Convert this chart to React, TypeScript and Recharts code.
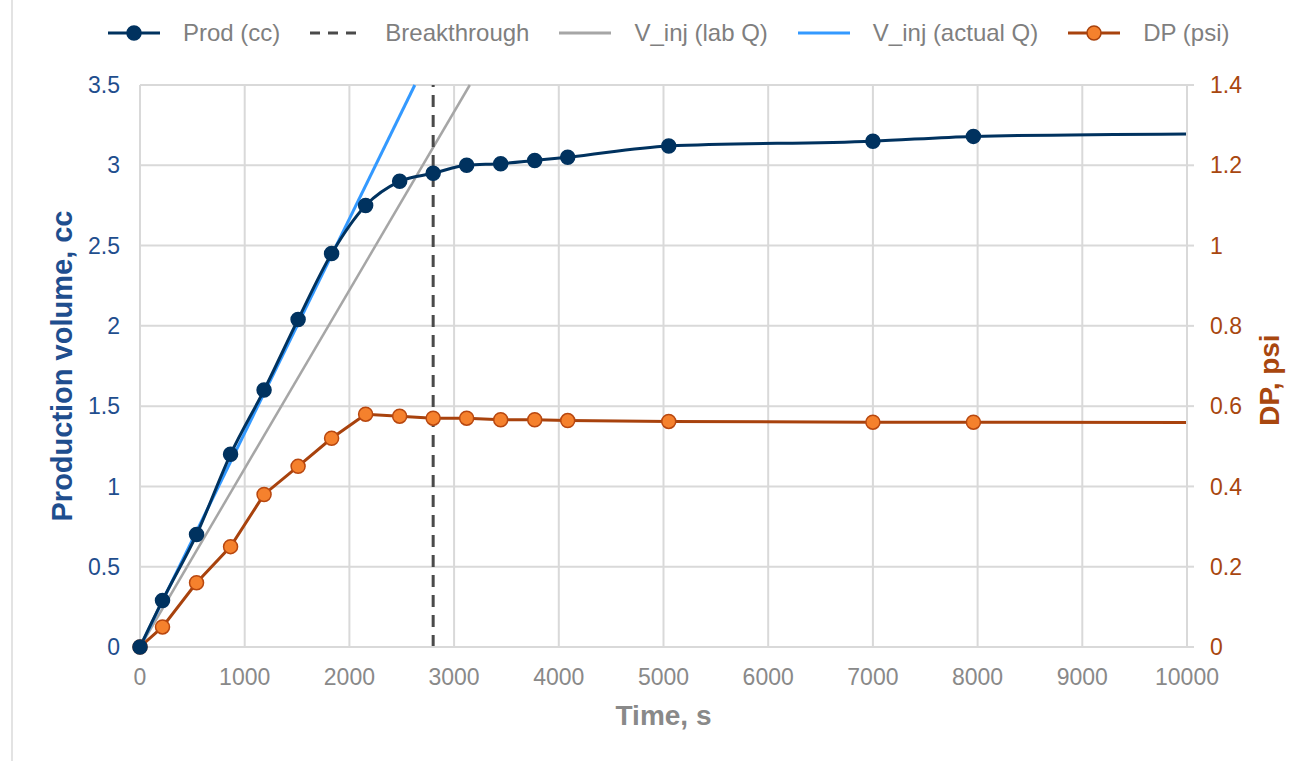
import React from "react";
import {
  ComposedChart,
  Line,
  XAxis,
  YAxis,
  CartesianGrid,
  Legend,
  Label,
} from "recharts";

// sample times (s)
const times = [0, 215, 540, 865, 1185, 1510, 1830, 2155, 2480, 2800, 3120, 3445, 3770, 4085, 5050, 7000, 7960, 10000];
// production volume (cc)
const prodValues = [0, 0.29, 0.7, 1.2, 1.6, 2.04, 2.45, 2.75, 2.9, 2.95, 3.0, 3.01, 3.03, 3.05, 3.12, 3.15, 3.18, 3.195];
// pressure drop (psi)
const dpValues = [0, 0.05, 0.16, 0.25, 0.38, 0.45, 0.52, 0.58, 0.575, 0.57, 0.57, 0.566, 0.566, 0.564, 0.562, 0.56, 0.56, 0.559];

const breakthroughTimes = [2800, 2800];
const breakthroughValues = [0, 3.5];

const labQTimes = [0, 3150];
const labQValues = [0, 3.5];

const actualQTimes = [0, 2625];
const actualQValues = [0, 3.5];

const xTicks = [0, 1000, 2000, 3000, 4000, 5000, 6000, 7000, 8000, 9000, 10000];
const leftTicks = [0, 0.5, 1, 1.5, 2, 2.5, 3, 3.5];
const rightTicks = [0, 0.2, 0.4, 0.6, 0.8, 1, 1.2, 1.4];

const zip = (t: number[], v: number[]) => t.map((x, i) => ({ t: x, v: v[i] }));

const prodData = zip(times, prodValues);
const dpData = zip(times, dpValues);
const breakthroughData = zip(breakthroughTimes, breakthroughValues);
const labQData = zip(labQTimes, labQValues);
const actualQData = zip(actualQTimes, actualQValues);

const NAVY = "#00325F";
const SKY = "#3399FF";
const GRAY = "#A6A6A6";
const DASH = "#4A4A4A";
const BROWN = "#A8420D";
const ORANGE = "#F5812D";
const LEFT_TXT = "#1F4E8E";
const RIGHT_TXT = "#A8470F";
const AXIS_TXT = "#898989";
const GRID = "#D9D9D9";
const FONT = "'Liberation Sans', Arial, sans-serif";

const lastIndex = times.length - 1;

// markers everywhere except the trailing point at the axis edge
const makeDot = (fill: string, stroke: string) => (props: any) => {
  const { cx, cy, index } = props;
  if (index === lastIndex || cx == null) return <g key={`d-${index}`} />;
  return <circle key={`d-${index}`} cx={cx} cy={cy} r={7} fill={fill} stroke={stroke} strokeWidth={1.5} />;
};

// right axis title sits a little below the plot centre in the original
const RightTitle = (props: any) => {
  const { x, y, width, height } = props.viewBox;
  const cx = x + width - 28;
  const cy = y + height / 2 + 14;
  return (
    <text
      x={cx}
      y={cy}
      transform={`rotate(-90 ${cx} ${cy})`}
      textAnchor="middle"
      dominantBaseline="central"
      fill={RIGHT_TXT}
      fontSize={28}
      fontWeight={700}
      fontFamily={FONT}
    >
      DP, psi
    </text>
  );
};

const legendItems = [
  { label: "Prod (cc)", stroke: NAVY, dash: undefined as string | undefined, fill: NAVY },
  { label: "Breakthrough", stroke: DASH, dash: "10 8", fill: undefined as string | undefined },
  { label: "V_inj (lab Q)", stroke: GRAY, dash: undefined, fill: undefined },
  { label: "V_inj (actual Q)", stroke: SKY, dash: undefined, fill: undefined },
  { label: "DP (psi)", stroke: BROWN, dash: undefined, fill: ORANGE },
];

const ChartLegend = () => (
  <div
    style={{
      height: 72,
      display: "flex",
      justifyContent: "flex-start",
      alignItems: "flex-start",
      paddingLeft: 96,
      fontFamily: FONT,
      fontSize: 24,
      color: "#7F7F7F",
    }}
  >
    {legendItems.map((it) => (
      <div key={it.label} style={{ display: "flex", alignItems: "center", height: 40, marginRight: 30 }}>
        <svg width={52} height={16} style={{ marginRight: 23 }}>
          <line x1={0} y1={8} x2={52} y2={8} stroke={it.stroke} strokeWidth={3} strokeDasharray={it.dash} />
          {it.fill && <circle cx={26} cy={8} r={7} fill={it.fill} stroke={it.stroke} strokeWidth={1.5} />}
        </svg>
        <span style={{ whiteSpace: "nowrap" }}>{it.label}</span>
      </div>
    ))}
  </div>
);

const App: React.FC = () => {
  return (
    <div style={{ position: "absolute", left: 0, top: 0, width: 1297, height: 761, background: "#fff" }}>
      <div style={{ position: "absolute", left: 11, top: 0, width: 2, height: 761, background: "#E3E3E3" }} />
      <ComposedChart
        width={1297}
        height={761}
        margin={{ top: 13, right: 0, bottom: 34, left: 12 }}
        style={{ fontFamily: FONT }}
      >
        <CartesianGrid stroke={GRID} strokeWidth={2} yAxisId="left" />
        <XAxis
          dataKey="t"
          type="number"
          domain={[0, 10000]}
          ticks={xTicks}
          interval={0}
          height={80}
          axisLine={{ stroke: GRID, strokeWidth: 2 }}
          tickLine={false}
          tickSize={6}
          tickMargin={16}
          tick={{ fill: AXIS_TXT, fontSize: 23 }}
          label={{
            value: "Time, s",
            position: "insideBottom",
            offset: 2,
            style: { fill: AXIS_TXT, fontSize: 28, fontWeight: 700 },
          }}
        />
        <YAxis
          yAxisId="left"
          orientation="left"
          type="number"
          domain={[0, 3.5]}
          ticks={leftTicks}
          interval={0}
          width={128}
          axisLine={{ stroke: GRID, strokeWidth: 2 }}
          tickLine={false}
          tickSize={6}
          tickMargin={14}
          tick={{ fill: LEFT_TXT, fontSize: 23 }}
          label={{
            value: "Production volume, cc",
            angle: -90,
            position: "insideLeft",
            offset: 50,
            style: { fill: LEFT_TXT, fontSize: 29, fontWeight: 700, textAnchor: "middle" },
          }}
        />
        <YAxis
          yAxisId="right"
          orientation="right"
          type="number"
          domain={[0, 1.4]}
          ticks={rightTicks}
          interval={0}
          width={110}
          axisLine={{ stroke: GRID, strokeWidth: 2 }}
          tickLine={{ stroke: GRID, strokeWidth: 2 }}
          tickSize={7}
          tickMargin={16}
          tick={{ fill: RIGHT_TXT, fontSize: 23 }}
        >
          <Label content={RightTitle} />
        </YAxis>
        <Legend verticalAlign="top" content={() => <ChartLegend />} />
        <Line
          yAxisId="left"
          data={labQData}
          dataKey="v"
          name="V_inj (lab Q)"
          stroke={GRAY}
          strokeWidth={2.5}
          dot={false}
          isAnimationActive={false}
        />
        <Line
          yAxisId="left"
          data={actualQData}
          dataKey="v"
          name="V_inj (actual Q)"
          stroke={SKY}
          strokeWidth={3}
          dot={false}
          isAnimationActive={false}
        />
        <Line
          yAxisId="left"
          data={breakthroughData}
          dataKey="v"
          name="Breakthrough"
          stroke={DASH}
          strokeWidth={3}
          strokeDasharray="12 8"
          dot={false}
          isAnimationActive={false}
        />
        <Line
          yAxisId="right"
          data={dpData}
          dataKey="v"
          name="DP (psi)"
          type="linear"
          stroke={BROWN}
          strokeWidth={3}
          dot={makeDot(ORANGE, "#B8470F")}
          isAnimationActive={false}
        />
        <Line
          yAxisId="left"
          data={prodData}
          dataKey="v"
          name="Prod (cc)"
          type="monotone"
          stroke={NAVY}
          strokeWidth={3}
          dot={makeDot(NAVY, NAVY)}
          isAnimationActive={false}
        />
      </ComposedChart>
    </div>
  );
};

export default App;
